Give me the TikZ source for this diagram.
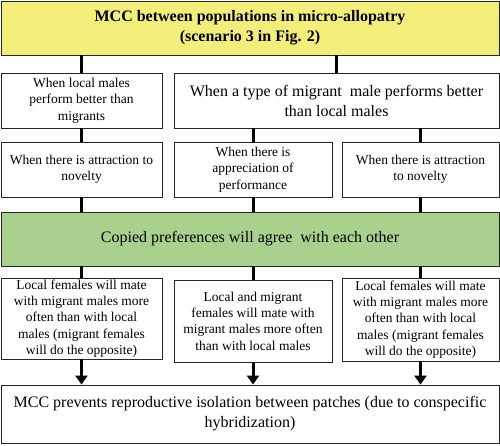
\documentclass[tikz,border=0pt]{standalone}
\usepackage{fontspec}
\setmainfont{Liberation Serif}
\usetikzlibrary{arrows.meta, positioning}
\definecolor{titleyellow}{RGB}{243,237,122}
\definecolor{agreegreen}{RGB}{169,209,142}

\begin{document}
\begin{tikzpicture}[x=1pt, y=-1pt,
    cbox/.style={draw=black!85, line width=0.9pt, align=center, inner sep=0pt},
    small/.style={font=\fontsize{13.5}{16.3}\selectfont},
    big/.style={font=\fontsize{16}{20}\selectfont},
    conn/.style={line width=3pt},
    arr/.style={line width=3pt, -{Triangle[length=9pt,width=12pt]}}]
  \useasboundingbox (0,0) rectangle (500,445);

  % Title
  \node[cbox, big, fill=titleyellow, minimum width=498pt, minimum height=54pt, font=\fontsize{16}{20}\selectfont\bfseries]
    (title) at (250,28) {MCC between populations in micro-allopatry\\(scenario 3 in Fig. 2)};

  % Who performs better
  \node[cbox, small, minimum width=161pt, minimum height=55pt] (localbetter) at (81.5,100.5)
    {When local males\\perform better than\\migrants};
  \node[cbox, big, minimum width=325pt, minimum height=55pt] (migrantbetter) at (336.5,100.5)
    {When a type of migrant\ \ male performs better\\than local males};

  % Kind of copying
  \node[cbox, small, minimum width=161pt, minimum height=55pt] (noveltyl) at (81.5,169.5)
    {When there is attraction to\\novelty};
  \node[cbox, small, minimum width=158pt, minimum height=55pt] (apprec) at (253,169.5)
    {When there is\\appreciation of\\performance};
  \node[cbox, small, minimum width=157pt, minimum height=55pt] (noveltyr) at (420.5,169.5)
    {When there is attraction\\to novelty};

  % Agreement
  \node[cbox, big, fill=agreegreen, minimum width=498pt, minimum height=54pt] (agree) at (250,239)
    {Copied preferences will agree\ \ with each other};

  % Mating outcome
  \node[cbox, small, minimum width=161pt, minimum height=81pt] (matel) at (81.5,318.5)
    {Local females will mate\\with migrant males more\\often than with local\\males (migrant females\\will do the opposite)};
  \node[cbox, small, minimum width=158pt, minimum height=82pt] (matem) at (253,321)
    {Local and migrant\\females will mate with\\migrant males more often\\than with local males};
  \node[cbox, small, minimum width=157pt, minimum height=83pt] (mater) at (420.5,319.5)
    {Local females will mate\\with migrant males more\\often than with local\\males (migrant females\\will do the opposite)};

  % Result
  \node[cbox, big, minimum width=498pt, minimum height=58pt] (result) at (250,414)
    {MCC prevents reproductive isolation between patches (due to conspecific\\hybridization)};

  % Connectors
  \draw[conn] (localbetter.north) -- (localbetter.north |- title.south);
  \draw[conn] (migrantbetter.north) -- (migrantbetter.north |- title.south);
  \draw[conn] (localbetter.south) -- (noveltyl.north);
  \draw[conn] (apprec.north) -- (apprec.north |- migrantbetter.south);
  \draw[conn] (noveltyr.north) -- (noveltyr.north |- migrantbetter.south);
  \foreach \n in {noveltyl, apprec, noveltyr}
    \draw[conn] (\n.south) -- (\n.south |- agree.north);
  \foreach \n in {matel, matem, mater}
    \draw[conn] (\n.north) -- (\n.north |- agree.south);
  \foreach \n in {matel, matem, mater}
    \draw[arr] (\n.south) -- (\n.south |- result.north);
\end{tikzpicture}
\end{document}
